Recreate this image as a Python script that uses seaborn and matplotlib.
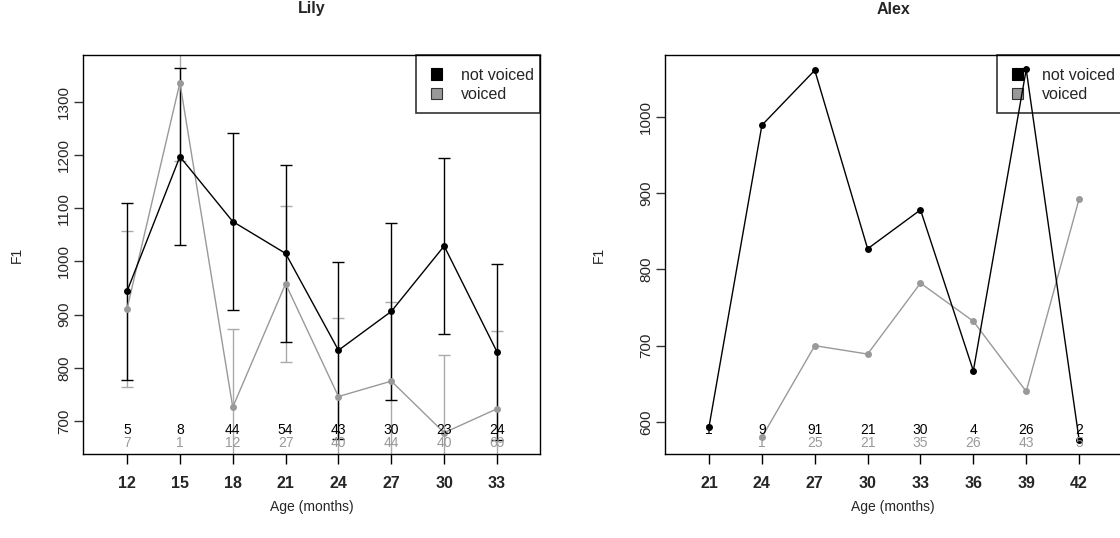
import numpy as np
import pandas as pd
import matplotlib
matplotlib.use("Agg")
import matplotlib.pyplot as plt
from matplotlib.patches import Rectangle, Patch
import seaborn as sns

# ---------------- data ----------------
lily_age = [12, 15, 18, 21, 24, 27, 30, 33]
lily_not_voiced = [944, 1197, 1075, 1015, 833, 906, 1029, 830]
lily_not_voiced_err = [166, 166, 166, 166, 166, 166, 166, 166]
lily_voiced = [911, 1336, 726, 958, 746, 775, 678, 723]
lily_voiced_err = [147, 148, 147, 147, 147, 148, 146, 147]
lily_n_not_voiced = ["5", "8", "44", "54", "43", "30", "23", "24"]
lily_n_voiced = ["7", "1", "12", "27", "40", "44", "40", "69"]

alex_age = [21, 24, 27, 30, 33, 36, 39, 42]
alex_not_voiced = [594, 989, 1061, 827, 878, 667, 1062, 577]
alex_voiced = [np.nan, 580, 700, 689, 782, 732, 640, 892]
alex_n_not_voiced = ["1", "9", "91", "21", "30", "4", "26", "2"]
alex_n_voiced = ["", "1", "25", "21", "35", "26", "43", "5"]

lily_yticks = [700, 800, 900, 1000, 1100, 1200, 1300]
alex_yticks = [600, 700, 800, 900, 1000]
series_names = ["not voiced", "voiced"]

# ---------------- style ----------------
sns.set_style("ticks")
plt.rcParams["font.family"] = ["Liberation Sans", "DejaVu Sans"]

BLACK = "#000000"
GRAY = "#999999"
GRAY_ERR = "#aaaaaa"

W, H = 1120, 538
fig = plt.figure(figsize=(W / 100, H / 100), dpi=100)


def fx(px):
    return px / W


def fy(py):
    return 1 - py / H


axL = fig.add_axes([fx(83), fy(454), fx(540) - fx(83), fy(55) - fy(454)])
axR = fig.add_axes([fx(665), fy(454), fx(1121) - fx(665), fy(55) - fy(454)])


def panel(ax, ages, nv, v, n_nv, n_v, xlim, ylim, yticks, cy_nv, cy_v,
          box_left, box_right, nv_err=None, v_err=None):
    df = pd.DataFrame({
        "age": list(ages) * 2,
        "F1": list(nv) + list(v),
        "voicing": [series_names[0]] * len(ages) + [series_names[1]] * len(ages),
    })
    # legend (drawn below the data, as in the reference)
    ax.add_patch(Rectangle((fx(box_left), fy(113)), fx(box_right) - fx(box_left),
                           fy(55) - fy(113), transform=fig.transFigure,
                           facecolor="white", edgecolor="#333333", linewidth=1.2,
                           clip_on=False, zorder=1.2))
    handles = [Patch(facecolor=BLACK, edgecolor=BLACK, linewidth=0.8),
               Patch(facecolor=GRAY, edgecolor="#333333", linewidth=0.8)]
    leg = ax.legend(handles, series_names, loc="upper left",
                    bbox_to_anchor=(fx(box_left + 15), fy(67.5)),
                    bbox_transform=fig.transFigure, frameon=False,
                    fontsize=11.5, borderpad=0, borderaxespad=0,
                    handlelength=0.7, handleheight=0.7, handletextpad=1.2,
                    labelspacing=0.28)
    leg.set_zorder(1.3)

    if v_err is not None:
        ax.errorbar(ages, v, yerr=v_err, fmt="none", ecolor=GRAY_ERR,
                    elinewidth=1, capsize=4, capthick=1, zorder=1.5)
    if nv_err is not None:
        ax.errorbar(ages, nv, yerr=nv_err, fmt="none", ecolor=BLACK,
                    elinewidth=1, capsize=4, capthick=1, zorder=1.6)
    sns.lineplot(data=df, x="age", y="F1", hue="voicing",
                 hue_order=["voiced", "not voiced"],
                 palette={"not voiced": BLACK, "voiced": GRAY},
                 marker="o", markersize=5, markeredgewidth=0,
                 linewidth=1, legend=False, ax=ax, zorder=3)
    for a, t in zip(ages, n_nv):
        ax.text(a, cy_nv, t, ha="center", va="center", fontsize=10, color=BLACK, zorder=4)
    for a, t in zip(ages, n_v):
        ax.text(a, cy_v, t, ha="center", va="center", fontsize=10, color=GRAY, zorder=4)

    ax.set_xlim(*xlim)
    ax.set_ylim(*ylim)
    ax.set_xticks(ages)
    ax.set_xticklabels([str(a) for a in ages], fontsize=11.5, fontweight="bold")
    ax.set_yticks(yticks)
    ax.set_yticklabels([str(t) for t in yticks], fontsize=11, rotation=90, va="center")
    ax.tick_params(axis="x", direction="out", length=7, width=1, pad=9, color=BLACK)
    ax.tick_params(axis="y", direction="out", length=6.5, width=1, pad=2, color="#333333")
    ax.set_xlabel("")
    ax.set_ylabel("")
    for s in ax.spines.values():
        s.set_visible(True)
        s.set_color(BLACK)
        s.set_linewidth(1)
        s.set_zorder(5)


panel(axL, lily_age, lily_not_voiced, lily_voiced, lily_n_not_voiced, lily_n_voiced,
      (9.5, 35.44), (638, 1388), lily_yticks, 683, 659, 416, 540,
      nv_err=lily_not_voiced_err, v_err=lily_voiced_err)
panel(axR, alex_age, alex_not_voiced, alex_voiced, alex_n_not_voiced, alex_n_voiced,
      (18.5, 44.38), (558, 1081), alex_yticks, 589.5, 572, 997, 1121)

# titles and axis labels
for cx, title in [(311.5, "Lily"), (893, "Alex")]:
    fig.text(fx(cx), fy(9), title, ha="center", va="center", fontsize=11.5, fontweight="bold")
    fig.text(fx(cx), fy(507), "Age (months)", ha="center", va="center", fontsize=10)
for lx in [17, 599]:
    fig.text(fx(lx), fy(255), "F1", ha="center", va="center", rotation=90, fontsize=10)

fig.savefig("out.png", dpi=100)
